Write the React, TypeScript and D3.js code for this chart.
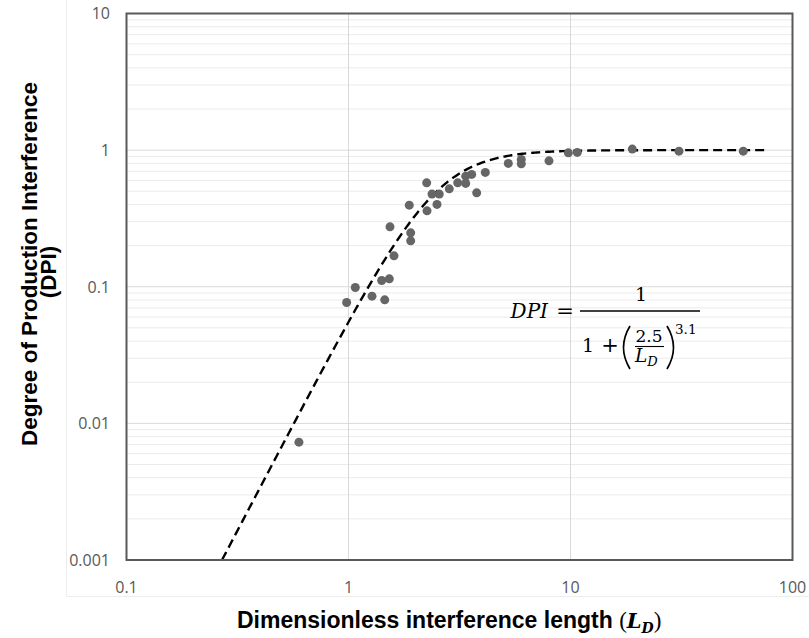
import React from "react";
import * as d3 from "d3";

// Measured pairs: dimensionless interference length vs. degree of production interference
const LD = [
  0.598, 0.981, 1.073, 1.276, 1.456, 1.411, 1.527, 1.603, 1.538, 1.906, 1.906,
  1.878, 2.25, 2.258, 2.377, 2.564, 2.504, 2.844, 3.104, 3.373, 3.373, 3.589,
  3.779, 4.133, 5.246, 6.003, 6.003, 8.0, 9.78, 10.73, 18.98, 30.8, 60.0,
];
const DPI = [
  0.00729, 0.0767, 0.0988, 0.0853, 0.0802, 0.1112, 0.1143, 0.1684, 0.2746,
  0.248, 0.2168, 0.3957, 0.576, 0.3593, 0.4764, 0.4764, 0.4004, 0.5208, 0.576,
  0.5706, 0.645, 0.664, 0.4868, 0.6866, 0.799, 0.855, 0.794, 0.835, 0.955,
  0.962, 1.017, 0.983, 0.983,
];

// Fitted model DPI = 1 / (1 + (A / LD)^N)
const FIT_A = 2.5;
const FIT_N = 3.1;
const FIT_LD_MAX = 75;

const X_TICKS = [0.1, 1, 10, 100];
const X_TICK_LABELS = ["0.1", "1", "10", "100"];
const Y_TICKS = [0.001, 0.01, 0.1, 1, 10];
const Y_TICK_LABELS = ["0.001", "0.01", "0.1", "1", "10"];

const W = 809;
const H = 638;
const M = { left: 126.5, right: 792.5, top: 13.5, bottom: 560 };

export default function App() {
  const x = d3.scaleLog().domain([0.1, 100]).range([M.left, M.right]);
  const y = d3.scaleLog().domain([0.001, 10]).range([M.bottom, M.top]);

  // minor horizontal grid: 2..9 within each decade
  const minorY: number[] = [];
  for (let e = -3; e < 1; e++) {
    for (let k = 2; k <= 9; k++) minorY.push(k * Math.pow(10, e));
  }
  const majorY = [0.01, 0.1, 1];
  const majorX = [1, 10];

  const fit = (l: number) => 1 / (1 + Math.pow(FIT_A / l, FIT_N));
  const lStart = FIT_A / Math.pow(1 / 0.001 - 1, 1 / FIT_N);
  const curvePts: [number, number][] = [];
  const steps = 300;
  const l0 = Math.log10(lStart);
  const l1 = Math.log10(FIT_LD_MAX);
  for (let i = 0; i <= steps; i++) {
    const l = Math.pow(10, l0 + ((l1 - l0) * i) / steps);
    curvePts.push([x(l), y(fit(l))]);
  }
  const line = d3.line();

  const tickFont = "'Open Sans', 'Noto Sans', sans-serif";
  const titleFont = "'Liberation Sans', Arial, sans-serif";
  const mathFont = "'DejaVu Serif', 'Liberation Serif', serif";
  const parenFont = "'Liberation Serif', serif";

  return (
    <svg
      width={W}
      height={H}
      style={{ position: "absolute", left: 0, top: 0, background: "#fff" }}
    >
      <rect x={0} y={0} width={W} height={H} fill="#fff" />
      {/* faint outer chart-area edges */}
      <line x1={66.5} x2={66.5} y1={0} y2={597} stroke="#eeeeee" strokeWidth={1} />
      <line x1={66.5} x2={W} y1={596.5} y2={596.5} stroke="#eeeeee" strokeWidth={1} />

      {/* grid */}
      {minorY.map((v, i) => (
        <line
          key={"mn" + i}
          x1={M.left}
          x2={M.right}
          y1={y(v)}
          y2={y(v)}
          stroke="#ebebeb"
          strokeWidth={1}
        />
      ))}
      {majorY.map((v, i) => (
        <line
          key={"mj" + i}
          x1={M.left}
          x2={M.right}
          y1={y(v)}
          y2={y(v)}
          stroke="#d9d9d9"
          strokeWidth={1}
        />
      ))}
      {majorX.map((v, i) => (
        <line
          key={"vx" + i}
          x1={x(v)}
          x2={x(v)}
          y1={M.top}
          y2={M.bottom}
          stroke="#d9d9d9"
          strokeWidth={1}
        />
      ))}

      {/* fitted curve */}
      <path
        d={line(curvePts) || ""}
        fill="none"
        stroke="#000"
        strokeWidth={2.4}
        strokeDasharray="9,5"
      />

      {/* data points */}
      {LD.map((l, i) => (
        <circle key={"p" + i} cx={x(l)} cy={y(DPI[i])} r={4.5} fill="#666666" />
      ))}

      {/* plot frame */}
      <rect
        x={M.left}
        y={M.top}
        width={M.right - M.left}
        height={M.bottom - M.top}
        fill="none"
        stroke="#595959"
        strokeWidth={2}
      />

      {/* tick labels */}
      {Y_TICKS.map((v, i) => (
        <text
          key={"yt" + i}
          x={110}
          y={y(v)}
          dy="0.36em"
          textAnchor="end"
          fontFamily={tickFont}
          fontSize={16}
          fill="#595959"
        >
          {Y_TICK_LABELS[i]}
        </text>
      ))}
      {X_TICKS.map((v, i) => (
        <text
          key={"xt" + i}
          x={x(v)}
          y={593}
          textAnchor="middle"
          fontFamily={tickFont}
          fontSize={16}
          fill="#595959"
        >
          {X_TICK_LABELS[i]}
        </text>
      ))}

      {/* axis titles */}
      <text x={237} y={628} fontFamily={titleFont} fontSize={23} fontWeight="bold" fill="#000">
        Dimensionless interference length{" "}
        <tspan fontFamily={parenFont} fontWeight="normal">(</tspan>
        <tspan fontFamily={mathFont} fontStyle="italic" fontWeight="bold" fontSize={21}>L</tspan>
        <tspan fontFamily={mathFont} fontStyle="italic" fontWeight="bold" fontSize={14} dy={5}>
          D
        </tspan>
        <tspan fontFamily={parenFont} fontWeight="normal" dy={-5}>)</tspan>
      </text>
      <g transform="translate(37,264) rotate(-90)">
        <text textAnchor="middle" fontFamily={titleFont} fontSize={22.5} fontWeight="bold" fill="#000">
          Degree of Production Interference
        </text>
      </g>
      <g transform="translate(56,272) rotate(-90)">
        <text textAnchor="middle" fontFamily={titleFont} fontSize={22.5} fontWeight="bold" fill="#000">
          (DPI)
        </text>
      </g>

      {/* model equation */}
      <g fontFamily={mathFont} fill="#000">
        <text x={548} y={318} textAnchor="end" fontSize={20} fontStyle="italic">
          DPI
        </text>
        <text x={565} y={318} textAnchor="middle" fontSize={21}>
          =
        </text>
        <line x1={580} x2={700} y1={311} y2={311} stroke="#000" strokeWidth={1.3} />
        <text x={641} y={301} textAnchor="middle" fontSize={19}>
          1
        </text>
        <text x={588} y={352} textAnchor="middle" fontSize={19}>
          1
        </text>
        <text x={610} y={352} textAnchor="middle" fontSize={21}>
          +
        </text>
        <path
          d="M630,326 Q617,347.5 630,369"
          fill="none"
          stroke="#000"
          strokeWidth={1.7}
        />
        <path
          d="M667,326 Q680,347.5 667,369"
          fill="none"
          stroke="#000"
          strokeWidth={1.7}
        />
        <text x={649} y={342} textAnchor="middle" fontSize={17}>
          2.5
        </text>
        <line x1={635} x2={664} y1={346.5} y2={346.5} stroke="#000" strokeWidth={1.1} />
        <text x={635} y={362} fontSize={18.5} fontStyle="italic">
          L
          <tspan fontSize={13} dy={4}>
            D
          </tspan>
        </text>
        <text x={675} y={334} fontSize={13.5}>
          3.1
        </text>
      </g>
    </svg>
  );
}
